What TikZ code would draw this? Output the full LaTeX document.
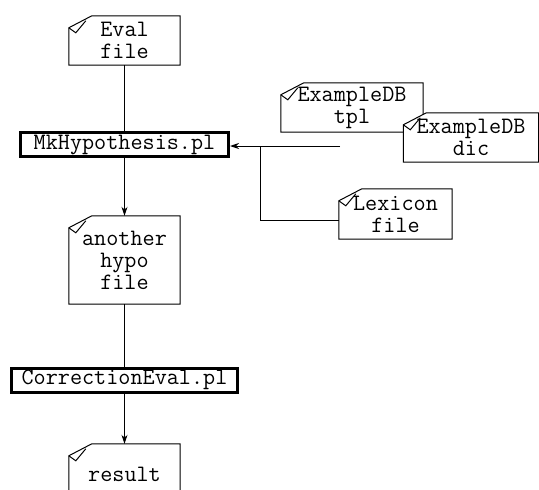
\documentclass[tikz,border=0pt]{standalone}
\usepackage{fontspec}
\usetikzlibrary{arrows.meta,backgrounds}
\newcommand\docframe[1]{%
  \filldraw[docline] ([yshift=-12pt]#1.north west) -- ([xshift=23pt]#1.north west) -- (#1.north east) -- (#1.south east) -- (#1.south west) -- cycle;
  \draw[docline,fill=none] ([yshift=-12pt]#1.north west) -- ([xshift=7pt,yshift=-17pt]#1.north west) -- ([xshift=17pt,yshift=-5pt]#1.north west);}
\begin{document}
\begin{tikzpicture}[x=1pt,y=-1pt,
  lbl/.style={font=\ttfamily\fontsize{23.5pt}{22pt}\selectfont, align=center, inner sep=0pt},
  docnode/.style={lbl},
  prog/.style={lbl, draw, line width=3pt, minimum height=24pt},
  docline/.style={line width=1pt, fill=white, line join=miter},
  conn/.style={line width=1pt},
  arr/.style={conn, -{Stealth[length=9pt,width=6pt]}}]
\path[use as bounding box] (0,0) rectangle (539,490);
\clip (0,0) rectangle (539,490);

\node[docnode, minimum width=111pt, minimum height=49pt] (eval) at (124.5,40.5) {Eval\\file};
\node[prog, minimum width=208pt] (mk) at (124.5,144.5) {MkHypothesis.pl};
\node[docnode, minimum width=111pt, minimum height=88pt] (hypo) at (124.5,260) {another\\hypo\\file};
\node[prog, minimum width=226pt] (corr) at (124.5,380) {CorrectionEval.pl};
\node[docnode, minimum width=111pt, minimum height=60pt] (res) at (124.5,474) {result};
\node[docnode, minimum width=142pt, minimum height=49pt] (tpl) at (352,107.5) {ExampleDB\\tpl};
\node[docnode, minimum width=135pt, minimum height=49pt] (dic) at (471,137.5) {ExampleDB\\dic};
\node[docnode, minimum width=113pt, minimum height=50pt] (lex) at (395.5,214) {Lexicon\\file};

\begin{pgfonlayer}{background}
\docframe{eval}
\docframe{hypo}
\docframe{res}
\docframe{tpl}
\docframe{dic}
\docframe{lex}
\end{pgfonlayer}

\coordinate (in) at (340,146);
\coordinate (j) at (260,146);

\draw[conn] (eval.south) -- (mk.north);
\draw[arr] (mk.south) -- (hypo.north);
\draw[conn] (hypo.south) -- (corr.north);
\draw[arr] (corr.south) -- (res.north);
\draw[arr] (in) -- (in -| mk.east);
\draw[conn] ([yshift=-6pt]lex.west) -| (j);
\end{tikzpicture}
\end{document}
